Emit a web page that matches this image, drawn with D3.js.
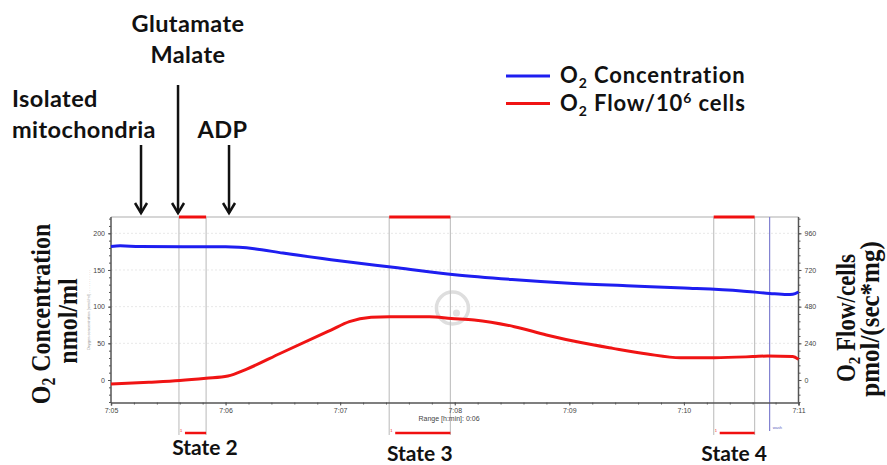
<!DOCTYPE html>
<html>
<head>
<meta charset="utf-8">
<script src="https://cdn.jsdelivr.net/npm/d3@7"></script>
<style>
  html, body { margin: 0; padding: 0; background: #fff; }
  svg { display: block; }
  .sans { font-family: Lato, "Open Sans", sans-serif; font-weight: 700; fill: #111; }
  .serif { font-family: "Liberation Serif", "DejaVu Serif", serif; font-weight: 700; fill: #111; }
  .tick text { font-family: "Liberation Sans", Arial, sans-serif; font-size: 7px; fill: #444; }
</style>
</head>
<body>
<div id="chart"></div>
<script>
// time in minutes after 7:00
var concTime  = [5.0, 5.08, 5.25, 6.0, 6.25, 6.5, 6.92, 7.5, 8.0, 8.5, 9.0, 9.5, 10.0, 10.5, 10.75, 10.9, 10.95, 11.0];
var concValue = [182, 183, 182, 181.5, 179, 173, 164, 153, 143.5, 137, 132, 128.5, 125.5, 121.5, 118, 116.5, 117, 120];

var flowTime  = [5.0, 5.33, 5.6, 5.83, 6.02, 6.18, 6.48, 6.92, 7.08, 7.27, 7.43, 7.78, 7.97, 8.17, 8.52, 8.8, 9.1, 9.38, 9.68, 9.97, 10.27, 10.6, 10.73, 10.95, 11.0];
var flowValue = [-26, -15, -4, 11, 26, 70, 175, 327, 382, 410, 414, 414, 403, 393, 349, 295, 245, 207, 170, 146, 146, 153, 157, 153, 135];

var stateLabels = ["State 2", "State 3", "State 4"];
var stateStart  = [5.593, 7.428, 10.26];
var stateEnd    = [5.83, 7.962, 10.617];
var washTime    = 10.748;

var eventLabels = [["Isolated", "mitochondria"], ["Glutamate", "Malate"], ["ADP"]];
var eventTime   = [5.262, 5.585, 6.03];

var leftTicks  = [0, 50, 100, 150, 200];
var rightTicks = [0, 240, 480, 720, 960];
var timeTicks  = [5, 6, 7, 8, 9, 10, 11];

var width = 887, height = 465;
var top0 = 217, bottom0 = 402.5;

var svg = d3.select('#chart').append('svg')
    .attr('width', width)
    .attr('height', height);

var x = d3.scaleLinear().domain([5, 11]).range([111, 798.5]);
var yL = d3.scaleLinear().domain([0, 200]).range([380, 233.3]);
var yR = d3.scaleLinear().domain([0, 960]).range([380, 233.3]);

// faint grid
svg.append('g').selectAll('line')
    .data(leftTicks.slice(1))
    .join('line')
    .attr('x1', x(5)).attr('x2', x(11))
    .attr('y1', d => yL(d)).attr('y2', d => yL(d))
    .attr('stroke', '#e8e8e8')
    .attr('stroke-dasharray', '2,2');

// frame
svg.append('line')
    .attr('x1', x(5)).attr('x2', x(11))
    .attr('y1', top0).attr('y2', top0)
    .attr('stroke', '#c8c8c8').attr('stroke-width', 1.5);

// watermark
svg.append('circle')
    .attr('cx', x(7.98)).attr('cy', 308).attr('r', 16)
    .attr('fill', 'none').attr('stroke', '#dedede').attr('stroke-width', 3.5);
svg.append('circle')
    .attr('cx', x(7.98) + 4).attr('cy', 313).attr('r', 3.5)
    .attr('fill', '#e2e2e2');

// state windows
stateLabels.forEach(function(lbl, i) {
    var g = svg.append('g');
    [stateStart[i], stateEnd[i]].forEach(function(t) {
        g.append('line')
            .attr('x1', x(t)).attr('x2', x(t))
            .attr('y1', top0).attr('y2', 435)
            .attr('stroke', '#c4c4c4').attr('stroke-width', 1.2);
    });
    g.append('line')
        .attr('x1', x(stateStart[i])).attr('x2', x(stateEnd[i]))
        .attr('y1', top0).attr('y2', top0)
        .attr('stroke', '#f01010').attr('stroke-width', 3);
    g.append('line')
        .attr('x1', x(stateStart[i]) + 6).attr('x2', x(stateEnd[i]))
        .attr('y1', 433).attr('y2', 433)
        .attr('stroke', '#f01010').attr('stroke-width', 2.5);
    g.append('text')
        .attr('x', x(stateStart[i]) + 1).attr('y', 432)
        .attr('font-size', 4).attr('fill', '#f01010')
        .attr('font-family', 'Liberation Sans, sans-serif')
        .text('1');
    g.append('text')
        .attr('class', 'sans')
        .attr('x', i == 0 ? 205 : (x(stateStart[i]) + x(stateEnd[i])) / 2)
        .attr('y', i == 0 ? 455 : 461)
        .attr('text-anchor', 'middle')
        .attr('font-size', 21)
        .text(lbl);
});

// wash marker
svg.append('line')
    .attr('x1', x(washTime)).attr('x2', x(washTime))
    .attr('y1', top0).attr('y2', 431)
    .attr('stroke', '#8080d0').attr('stroke-width', 1.2);
svg.append('text')
    .attr('x', x(washTime) + 3).attr('y', 429)
    .attr('font-size', 4).attr('fill', '#6060c0')
    .attr('font-family', 'Liberation Sans, sans-serif')
    .text('wash');

// axes
var xAxis = svg.append('g')
    .attr('transform', 'translate(0,' + bottom0 + ')')
    .call(d3.axisBottom(x).tickValues(timeTicks).tickSize(3)
        .tickFormat(d => '7:' + d3.format('02d')(d)));
svg.append('g')
    .attr('transform', 'translate(0,' + bottom0 + ')')
    .call(d3.axisBottom(x).tickValues(d3.range(5, 11.001, 0.2)).tickSize(2).tickFormat(''))
    .call(g => g.select('.domain').remove());

var lAxis = svg.append('g')
    .attr('transform', 'translate(' + x(5) + ',0)')
    .call(d3.axisLeft(yL).tickValues(leftTicks).tickSize(3));
svg.append('g')
    .attr('transform', 'translate(' + x(5) + ',0)')
    .call(d3.axisLeft(yL).tickValues(d3.range(-30, 221, 10)).tickSize(2).tickFormat(''))
    .call(g => g.select('.domain').remove());

var rAxis = svg.append('g')
    .attr('transform', 'translate(' + x(11) + ',0)')
    .call(d3.axisRight(yR).tickValues(rightTicks).tickSize(3));
svg.append('g')
    .attr('transform', 'translate(' + x(11) + ',0)')
    .call(d3.axisRight(yR).tickValues(d3.range(-144, 1061, 48)).tickSize(2).tickFormat(''))
    .call(g => g.select('.domain').remove());

[xAxis, lAxis, rAxis].forEach(function(a) {
    a.select('.domain').attr('stroke', '#555').attr('stroke-width', 1.5);
});
svg.selectAll('.tick line').attr('stroke', '#555');
lAxis.select('.domain').attr('d', 'M0,' + top0 + 'V' + bottom0);
rAxis.select('.domain').attr('d', 'M0,' + top0 + 'V' + bottom0);

svg.append('text')
    .attr('x', x(7.95)).attr('y', 421)
    .attr('text-anchor', 'middle')
    .attr('font-size', 7).attr('fill', '#444')
    .attr('font-family', 'Liberation Sans, sans-serif')
    .text('Range [h:min]: 0:06');

// tiny faded axis caption
svg.append('text')
    .attr('transform', 'translate(90,310) rotate(-90)')
    .attr('text-anchor', 'middle')
    .attr('font-size', 4).attr('fill', '#999')
    .attr('font-family', 'Liberation Sans, sans-serif')
    .text('Oxygen concentration [nmol/ml] . . . . . . . . . . .');

// lines
var concLine = d3.line()
    .x((d, i) => x(concTime[i]))
    .y(d => yL(d))
    .curve(d3.curveMonotoneX);
var flowLine = d3.line()
    .x((d, i) => x(flowTime[i]))
    .y(d => yR(d))
    .curve(d3.curveMonotoneX);

svg.append('path')
    .datum(concValue)
    .attr('d', concLine)
    .attr('fill', 'none')
    .attr('stroke', '#1e1ef0')
    .attr('stroke-width', 3);

svg.append('path')
    .datum(flowValue)
    .attr('d', flowLine)
    .attr('fill', 'none')
    .attr('stroke', '#f01414')
    .attr('stroke-width', 3);

// event arrows
var arrowTop = [145, 85, 145];
eventLabels.forEach(function(lines, i) {
    var ax = x(eventTime[i]);
    svg.append('line')
        .attr('x1', ax).attr('x2', ax)
        .attr('y1', arrowTop[i]).attr('y2', 213)
        .attr('stroke', '#111').attr('stroke-width', 2.5);
    svg.append('path')
        .attr('d', 'M' + (ax - 6) + ',203L' + ax + ',213L' + (ax + 6) + ',203')
        .attr('fill', 'none').attr('stroke', '#111').attr('stroke-width', 2.5);
});

var labelPos = [[12, 107, 'start'], [188, 32, 'middle'], [222.5, 138, 'middle']];
eventLabels.forEach(function(lines, i) {
    var t = svg.append('text')
        .attr('class', 'sans')
        .attr('x', labelPos[i][0]).attr('y', labelPos[i][1])
        .attr('text-anchor', labelPos[i][2])
        .attr('letter-spacing', 0.4)
        .attr('font-size', 23.5);
    lines.forEach(function(s, j) {
        t.append('tspan')
            .attr('x', labelPos[i][0])
            .attr('dy', j == 0 ? 0 : 31)
            .text(s);
    });
});

// legend
var legendItems = [['Concentration', '#1e1ef0'], ['Flow/10', '#f01414']];
legendItems.forEach(function(item, i) {
    var ly = 76 + i * 27.5;
    svg.append('line')
        .attr('x1', 506).attr('x2', 550)
        .attr('y1', ly).attr('y2', ly)
        .attr('stroke', item[1]).attr('stroke-width', 3);
    var t = svg.append('text')
        .attr('class', 'sans')
        .attr('x', 560).attr('y', ly + 7)
        .attr('letter-spacing', 0.9)
        .attr('font-size', 22);
    t.append('tspan').text('O');
    t.append('tspan').attr('font-size', 14).attr('dy', 5).text('2');
    t.append('tspan').attr('dy', -5).text(' ' + item[0]);
    if (i == 1) {
        t.append('tspan').attr('font-size', 14).attr('dy', -8).text('6');
        t.append('tspan').attr('dy', 8).text(' cells');
    }
});

// y titles (the source figure is squeezed vertically, so glyphs are a bit wider across)
function yTitle(bx, cy, main, sub, rest, fs, sy) {
    var t = svg.append('text')
        .attr('class', 'serif')
        .attr('transform', 'translate(' + bx + ',' + cy + ') rotate(-90) scale(1,' + sy + ')')
        .attr('text-anchor', 'middle')
        .attr('font-size', fs);
    t.append('tspan').text(main);
    if (sub) {
        t.append('tspan').attr('font-size', fs * 0.65).attr('dy', 4).text(sub);
        t.append('tspan').attr('dy', -4).text(rest);
    }
}
yTitle(50, 314, 'O', '2', ' Concentration', 24, 1.15);
yTitle(77, 321, 'nmol/ml', null, null, 24, 1.15);
yTitle(855, 318, 'O', '2', ' Flow/cells', 23, 1.15);
yTitle(879, 319, 'pmol/(sec*mg)', null, null, 25, 1.1);
</script>
</body>
</html>
